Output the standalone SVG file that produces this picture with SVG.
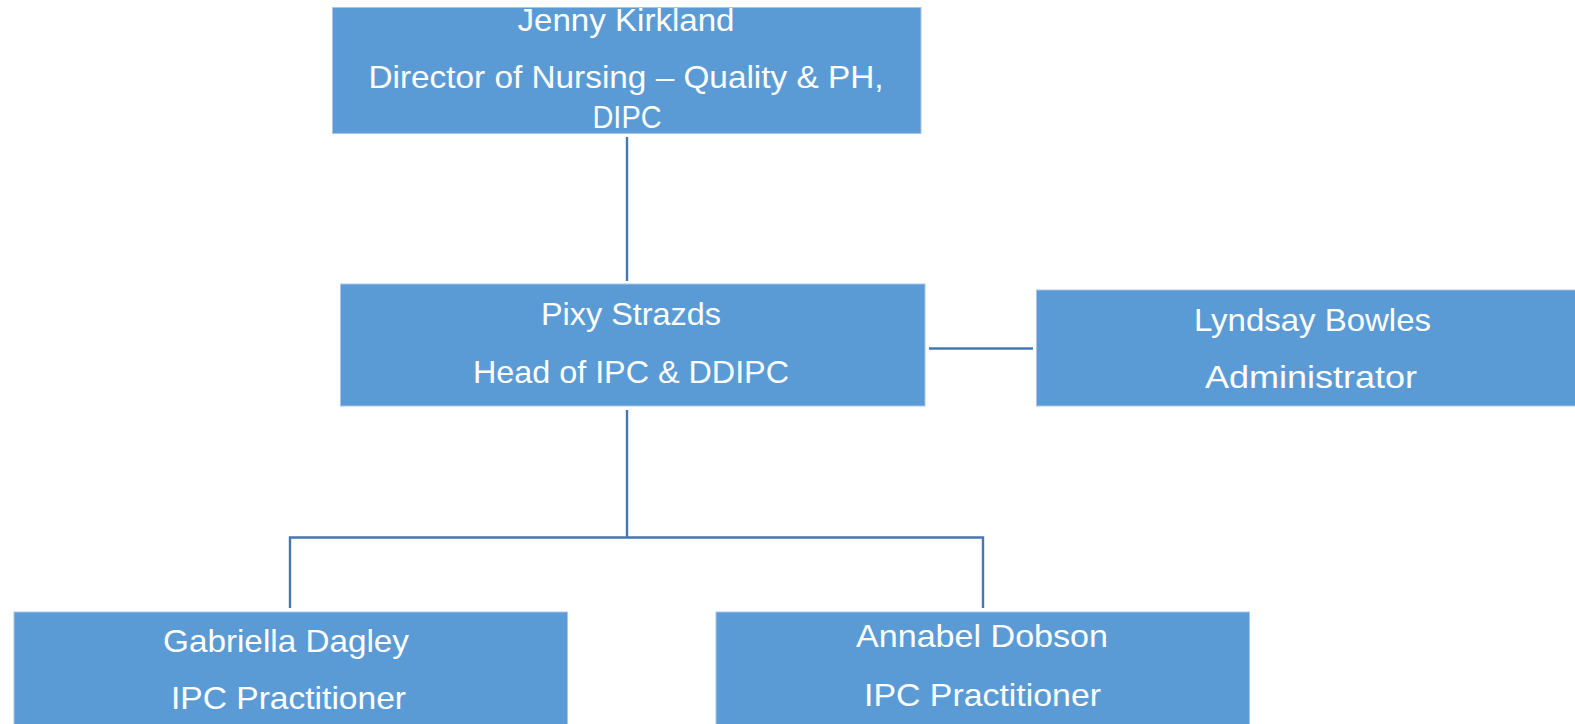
<svg xmlns="http://www.w3.org/2000/svg" width="1575" height="724" viewBox="0 0 1575 724">
<style>
.box{fill:#5B9BD5;stroke:#A9C6E8;stroke-width:1}
.t{font-family:"Liberation Sans Narrow","Liberation Sans",Arial,sans-serif;font-size:32px;fill:#FFFFFF;text-anchor:middle}
.c{fill:none;stroke:#4677B2;stroke-width:2.4}
</style>
<rect width="1575" height="724" fill="#FFFFFF"/>
<g id="connectors">
<line class="c" x1="627" y1="137" x2="627" y2="281"/>
<line class="c" x1="929" y1="348.5" x2="1033" y2="348.5"/>
<polyline class="c" points="627,410 627,537.5"/>
<polyline class="c" points="290,608 290,537.5 983,537.5 983,608"/>
</g>
<g id="node-jenny">
<rect class="box" x="332.5" y="7.5" width="588.5" height="126"/>
<text class="t" x="626" y="31" textLength="217" lengthAdjust="spacingAndGlyphs">Jenny Kirkland</text>
<text class="t" x="626" y="88" textLength="515" lengthAdjust="spacingAndGlyphs">Director of Nursing – Quality &amp; PH,</text>
<text class="t" x="627" y="128" textLength="69" lengthAdjust="spacingAndGlyphs">DIPC</text>
</g>
<g id="node-pixy">
<rect class="box" x="340.5" y="284" width="584.5" height="122"/>
<text class="t" x="631" y="325" textLength="180" lengthAdjust="spacingAndGlyphs">Pixy Strazds</text>
<text class="t" x="631" y="383" textLength="316" lengthAdjust="spacingAndGlyphs">Head of IPC &amp; DDIPC</text>
</g>
<g id="node-lyndsay">
<rect class="box" x="1036.5" y="290" width="540" height="116"/>
<text class="t" x="1312.5" y="331" textLength="237" lengthAdjust="spacingAndGlyphs">Lyndsay Bowles</text>
<text class="t" x="1311" y="388" textLength="212" lengthAdjust="spacingAndGlyphs">Administrator</text>
</g>
<g id="node-gabriella">
<rect class="box" x="14" y="612" width="553.5" height="114"/>
<text class="t" x="286" y="652" textLength="246" lengthAdjust="spacingAndGlyphs">Gabriella Dagley</text>
<text class="t" x="288.5" y="709" textLength="235" lengthAdjust="spacingAndGlyphs">IPC Practitioner</text>
</g>
<g id="node-annabel">
<rect class="box" x="716" y="612" width="533.5" height="114"/>
<text class="t" x="982" y="647" textLength="252" lengthAdjust="spacingAndGlyphs">Annabel Dobson</text>
<text class="t" x="982.5" y="706" textLength="237" lengthAdjust="spacingAndGlyphs">IPC Practitioner</text>
</g>
</svg>
